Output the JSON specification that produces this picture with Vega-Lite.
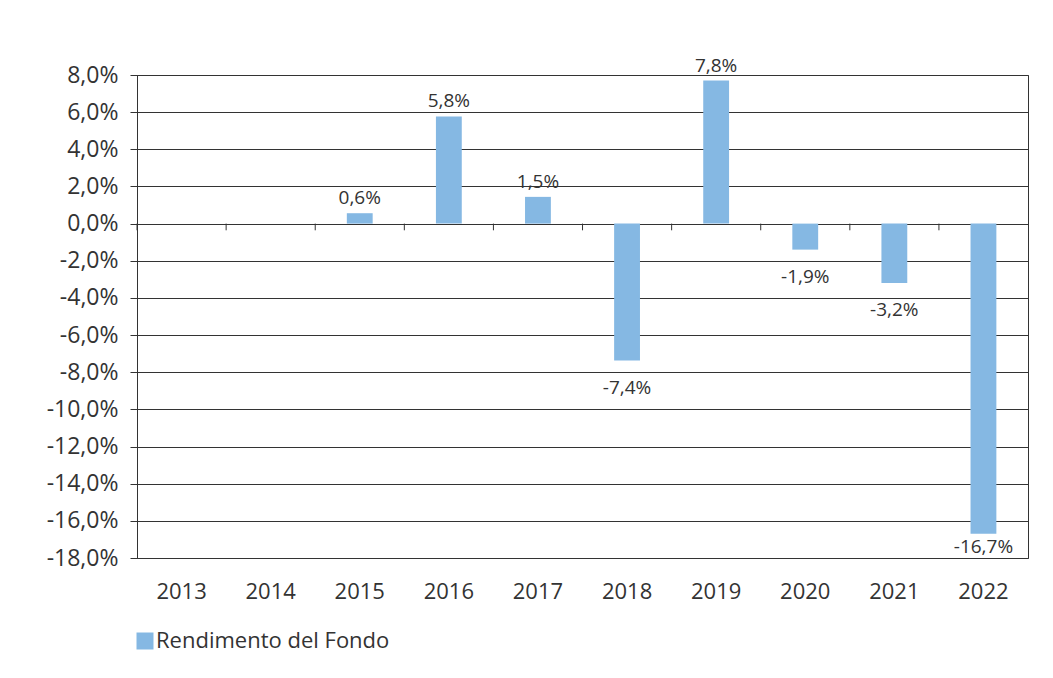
{
  "$schema": "https://vega.github.io/schema/vega-lite/v6.json",
  "autosize": {"type": "none"},
  "padding": {"left": 137, "top": 75, "right": 25, "bottom": 120},
  "width": 891,
  "height": 483,
  "background": "white",
  "config": {
    "font": "Open Sans",
    "view": {"stroke": "#333333", "strokeWidth": 1}
  },
  "data": {
    "values": [
      {"year": "2013", "value": null, "label": "", "serie": "Rendimento del Fondo"},
      {"year": "2014", "value": null, "label": "", "serie": "Rendimento del Fondo"},
      {"year": "2015", "value": 0.56, "label": "0,6%", "serie": "Rendimento del Fondo"},
      {"year": "2016", "value": 5.77, "label": "5,8%", "serie": "Rendimento del Fondo"},
      {"year": "2017", "value": 1.44, "label": "1,5%", "serie": "Rendimento del Fondo"},
      {"year": "2018", "value": -7.37, "label": "-7,4%", "serie": "Rendimento del Fondo"},
      {"year": "2019", "value": 7.7, "label": "7,8%", "serie": "Rendimento del Fondo"},
      {"year": "2020", "value": -1.4, "label": "-1,9%", "serie": "Rendimento del Fondo"},
      {"year": "2021", "value": -3.2, "label": "-3,2%", "serie": "Rendimento del Fondo"},
      {"year": "2022", "value": -16.69, "label": "-16,7%", "serie": "Rendimento del Fondo"}
    ]
  },
  "encoding": {
    "x": {
      "field": "year",
      "type": "nominal",
      "sort": null,
      "scale": {
        "domain": ["2013", "2014", "2015", "2016", "2017", "2018", "2019", "2020", "2021", "2022"],
        "paddingInner": 0.71,
        "paddingOuter": 0.355
      },
      "axis": {
        "title": null,
        "orient": "bottom",
        "labelAngle": 0,
        "ticks": false,
        "domain": false,
        "labelPadding": 23,
        "labelFontSize": 22,
        "labelColor": "#333333",
        "labelFont": "Open Sans"
      }
    },
    "y": {
      "field": "value",
      "type": "quantitative",
      "scale": {"domain": [-18, 8], "nice": false, "zero": false},
      "axis": {
        "title": null,
        "values": [8, 6, 4, 2, 0, -2, -4, -6, -8, -10, -12, -14, -16, -18],
        "labelExpr": "replace(replace(format(datum.value, '.1f'), '.', ','), '\u2212', '-') + '%'",
        "labelOverlap": false,
        "labelBound": false,
        "grid": true,
        "gridColor": "#333333",
        "gridWidth": 1,
        "gridOpacity": 1,
        "domain": true,
        "domainColor": "#333333",
        "ticks": true,
        "tickSize": 7,
        "tickColor": "#333333",
        "labelPadding": 12,
        "labelFontSize": 23,
        "labelColor": "#333333",
        "labelFont": "Open Sans"
      }
    }
  },
  "layer": [
    {
      "mark": {"type": "bar", "color": "#85b8e3"},
      "encoding": {
        "color": {
          "field": "serie",
          "type": "nominal",
          "scale": {"range": ["#85b8e3"]},
          "legend": {
            "title": null,
            "orient": "none",
            "legendX": -3,
            "legendY": 555,
            "symbolType": "square",
            "symbolSize": 289,
            "symbolStrokeWidth": 0,
            "symbolOpacity": 1,
            "labelFontSize": 22,
            "labelColor": "#333333",
            "labelFont": "Open Sans",
            "labelOffset": 0,
            "labelLimit": 400
          }
        }
      }
    },
    {
      "data": {
        "values": [
          {"year": "2013", "t0": 0, "t1": -0.36}, {"year": "2014", "t0": 0, "t1": -0.36},
          {"year": "2015", "t0": 0, "t1": -0.36}, {"year": "2016", "t0": 0, "t1": -0.36},
          {"year": "2017", "t0": 0, "t1": -0.36}, {"year": "2018", "t0": 0, "t1": -0.36},
          {"year": "2019", "t0": 0, "t1": -0.36}, {"year": "2020", "t0": 0, "t1": -0.36},
          {"year": "2021", "t0": 0, "t1": -0.36}, {"year": "2022", "t0": 0, "t1": -0.36}
        ]
      },
      "mark": {"type": "rule", "color": "#333333", "strokeWidth": 1, "xOffset": -31.6},
      "encoding": {
        "x": {"field": "year", "type": "nominal", "bandPosition": 0},
        "y": {
          "field": "t0",
          "type": "quantitative",
          "scale": {"domain": [-18, 8], "nice": false, "zero": false},
          "axis": {
            "title": null,
            "values": [8, 6, 4, 2, 0, -2, -4, -6, -8, -10, -12, -14, -16, -18],
            "labelExpr": "replace(replace(format(datum.value, '.1f'), '.', ','), '\u2212', '-') + '%'",
            "labelOverlap": false,
            "labelBound": false,
            "grid": true,
            "gridColor": "#333333",
            "gridWidth": 1,
            "gridOpacity": 1,
            "domain": true,
            "domainColor": "#333333",
            "ticks": true,
            "tickSize": 7,
            "tickColor": "#333333",
            "labelPadding": 12,
            "labelFontSize": 23,
            "labelColor": "#333333",
            "labelFont": "Open Sans"
          }
        },
        "y2": {"field": "t1"}
      }
    },
    {
      "transform": [{"filter": "datum.value > 0"}],
      "mark": {"type": "text", "baseline": "alphabetic", "dy": -9, "fontSize": 19, "color": "#333333", "font": "Open Sans"},
      "encoding": {
        "text": {"field": "label"}
      }
    },
    {
      "transform": [{"filter": "datum.value < 0 && datum.year != '2022'"}],
      "mark": {"type": "text", "baseline": "alphabetic", "dy": 33, "fontSize": 19, "color": "#333333", "font": "Open Sans"},
      "encoding": {
        "text": {"field": "label"}
      }
    },
    {
      "transform": [{"filter": "datum.year == '2022'"}],
      "mark": {"type": "text", "baseline": "alphabetic", "dy": 19, "fontSize": 19, "color": "#333333", "font": "Open Sans"},
      "encoding": {
        "text": {"field": "label"}
      }
    }
  ]
}
